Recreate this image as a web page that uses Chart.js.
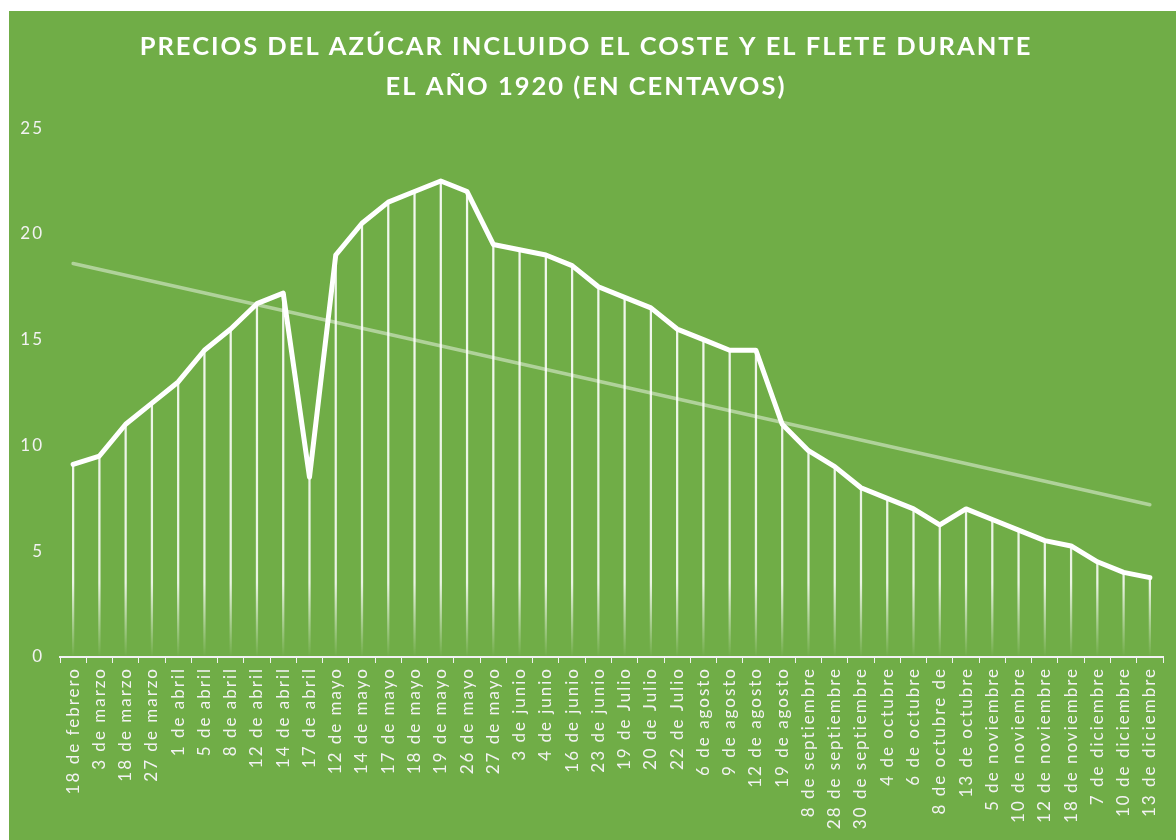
<!DOCTYPE html>
<html lang="es">
<head>
<meta charset="utf-8">
<title>Precios del azúcar 1920</title>
<script src="https://cdn.jsdelivr.net/npm/chart.js@4.4.1/dist/chart.umd.min.js"></script>
<style>
  html, body { margin: 0; padding: 0; background: #ffffff; }
  #marco {
    position: absolute; left: 9px; top: 11px;
    width: 1167px; height: 829px;
    background: #70ad47;
  }
</style>
</head>
<body>
<div id="marco"><canvas id="grafico" width="1167" height="829"></canvas></div>
<script>
const fechas = [
  "18 de febrero", "3 de marzo", "18 de marzo", "27 de marzo", "1 de abril", "5 de abril",
  "8 de abril", "12 de abril", "14 de abril", "17 de abril", "12 de mayo", "14 de mayo",
  "17 de mayo", "18 de mayo", "19 de mayo", "26 de mayo", "27 de mayo", "3 de junio",
  "4 de junio", "16 de junio", "23 de junio", "19 de Julio", "20 de Julio", "22 de Julio",
  "6 de agosto", "9 de agosto", "12 de agosto", "19 de agosto", "8 de septiembre",
  "28 de septiembre", "30 de septiembre", "4 de octubre", "6 de octubre", "8 de octubre de",
  "13 de octubre", "5 de noviembre", "10 de noviembre", "12 de noviembre", "18 de noviembre",
  "7 de diciembre", "10 de diciembre", "13 de diciembre"
];

const precios = [
  9.1, 9.5, 11, 12, 13, 14.5,
  15.5, 16.7, 17.2, 8.5, 19, 20.5,
  21.5, 22, 22.5, 22, 19.5, 19.25,
  19, 18.5, 17.5, 17, 16.5, 15.5,
  15, 14.5, 14.5, 11, 9.75,
  9, 8, 7.5, 7, 6.25,
  7, 6.5, 6, 5.5, 5.25,
  4.5, 4, 3.75
];

const tendenciaInicio = 18.6;
const tendenciaFin = 7.2;

const ticksY = [0, 5, 10, 15, 20, 25];

const fuente = "Lato, 'Open Sans', sans-serif";
const ultimo = fechas.length - 1;
const tendencia = fechas.map((_, i) => i === 0 ? tendenciaInicio : (i === ultimo ? tendenciaFin : null));

function degradado(context) {
  const { ctx, chartArea } = context.chart;
  if (!chartArea) return "rgba(255,255,255,0.85)";
  const g = ctx.createLinearGradient(0, chartArea.bottom, 0, chartArea.top);
  g.addColorStop(0, "rgba(255,255,255,0)");
  g.addColorStop(0.14, "rgba(255,255,255,0.85)");
  g.addColorStop(1, "rgba(255,255,255,0.92)");
  return g;
}

// espaciado entre letras, como en el original
const espaciar = chart => { chart.ctx.letterSpacing = "2px"; };
const espaciado = {
  id: "espaciado",
  beforeInit: espaciar,
  beforeUpdate: espaciar,
  beforeLayout: espaciar,
  beforeRender: espaciar,
  beforeDraw: espaciar
};

new Chart(document.getElementById("grafico"), {
  type: "bar",
  data: {
    labels: fechas,
    datasets: [
      {
        type: "line", label: "Precio", data: precios, order: 0,
        borderColor: "#ffffff", borderWidth: 5, pointRadius: 0,
        borderJoinStyle: "round", borderCapStyle: "round", tension: 0
      },
      {
        type: "line", label: "Tendencia", data: tendencia, order: 1, spanGaps: true,
        borderColor: "rgba(255,255,255,0.45)", borderWidth: 3.5, pointRadius: 0,
        borderCapStyle: "round"
      },
      {
        type: "bar", label: "Líneas", data: precios, order: 2,
        barThickness: 1.6, backgroundColor: degradado, borderWidth: 0
      }
    ]
  },
  options: {
    responsive: false,
    animation: false,
    layout: { padding: { left: 0, right: 13, top: 0, bottom: 0 } },
    plugins: {
      legend: { display: false },
      tooltip: { enabled: false },
      title: {
        display: true,
        text: ["PRECIOS DEL AZÚCAR INCLUIDO EL COSTE Y EL FLETE DURANTE", "EL AÑO 1920 (EN CENTAVOS)"],
        color: "#ffffff",
        font: { family: fuente, size: 25.5, weight: "bold", lineHeight: 1.57 },
        padding: { top: 16, bottom: 21 }
      }
    },
    scales: {
      x: {
        offset: true,
        grid: { offset: true, drawOnChartArea: false, drawTicks: true, tickLength: 6, color: "#f2f2f2" },
        border: { color: "#f2f2f2", width: 2 },
        ticks: {
          color: "#f2f2f2", autoSkip: false, minRotation: 90, maxRotation: 90, padding: 4,
          font: { family: fuente, size: 17 }
        },
        afterFit(scale) { scale.height = 183; }
      },
      y: {
        min: 0, max: 25,
        afterBuildTicks(scale) { scale.ticks = ticksY.map(v => ({ value: v })); },
        grid: { display: false, drawTicks: false },
        border: { display: false },
        ticks: { color: "#f2f2f2", padding: 16, font: { family: fuente, size: 17 } },
        afterFit(scale) { scale.width = 51; }
      }
    }
  },
  plugins: [espaciado]
});
</script>
</body>
</html>
